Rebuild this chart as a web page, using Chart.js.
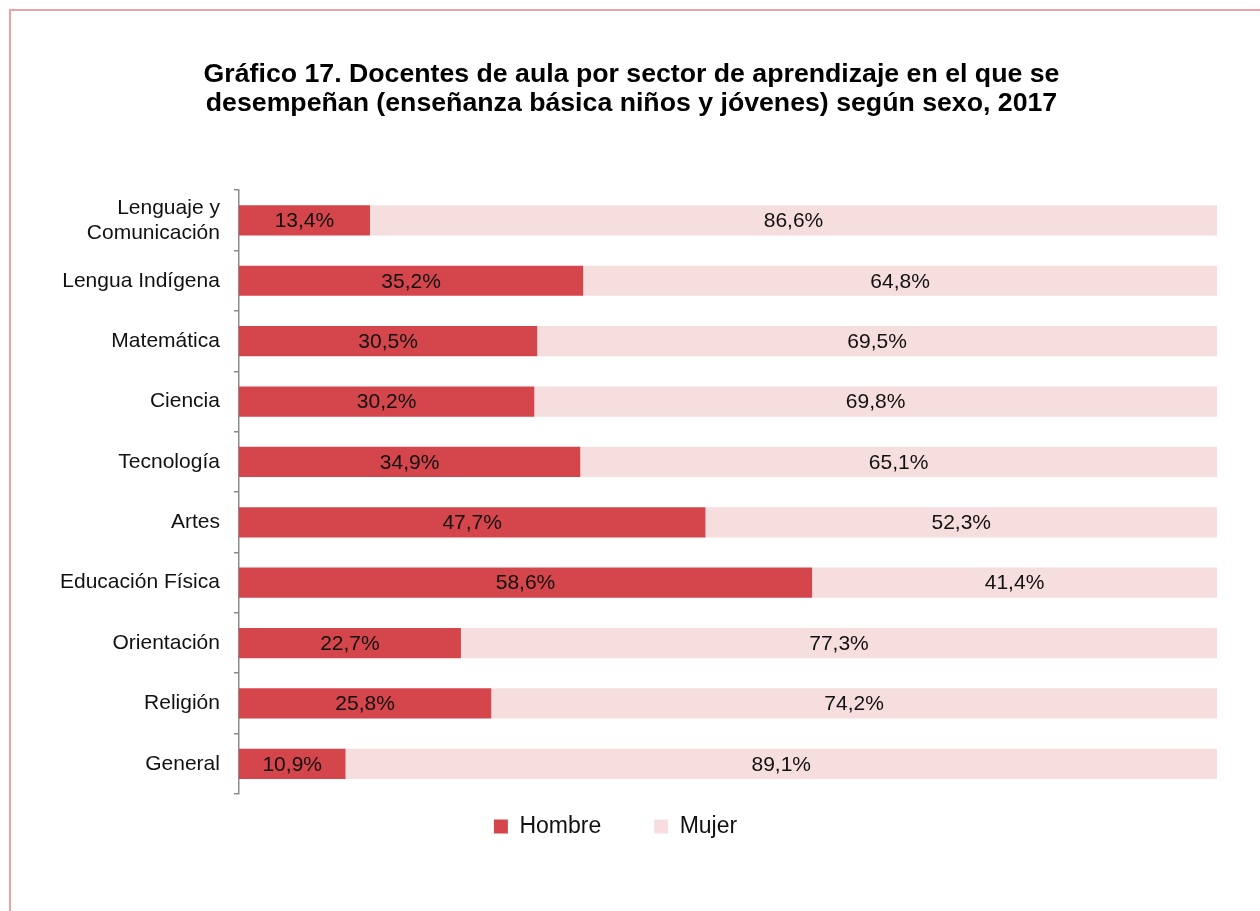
<!DOCTYPE html>
<html>
<head>
<meta charset="utf-8">
<script src="https://cdn.jsdelivr.net/npm/chart.js@4.4.0/dist/chart.umd.min.js"></script>
<style>
  html, body { margin: 0; padding: 0; background: #fff; overflow: hidden; }
  #frame {
    position: absolute; left: 9px; top: 9px; width: 1300px; height: 960px;
    border-left: 2px solid #efa0a4; border-top: 2px solid #efa0a4;
  }
  #chart { position: absolute; left: 0; top: 0; }
</style>
</head>
<body>
<div id="frame"></div>
<canvas id="chart" width="1260" height="911"></canvas>
<script>
// ─── DATA ───
const categories = [
    ['Lenguaje y', 'Comunicación'],
    'Lengua Indígena',
    'Matemática',
    'Ciencia',
    'Tecnología',
    'Artes',
    'Educación Física',
    'Orientación',
    'Religión',
    'General'
];
const hombre = [13.4, 35.2, 30.5, 30.2, 34.9, 47.7, 58.6, 22.7, 25.8, 10.9];
const mujer = [86.6, 64.8, 69.5, 69.8, 65.1, 52.3, 41.4, 77.3, 74.2, 89.1];
const seriesNames = ['Hombre', 'Mujer'];
const titleLines = [
    'Gráfico 17. Docentes de aula por sector de aprendizaje en el que se',
    'desempeñan (enseñanza básica niños y jóvenes) según sexo, 2017'
];

const FONT = "'Liberation Sans', Arial, sans-serif";

// labels centred inside each bar segment
const barLabels = {
    id: 'barLabels',
    afterDatasetsDraw(chart) {
        const ctx = chart.ctx;
        ctx.save();
        ctx.font = '21px ' + FONT;
        ctx.fillStyle = '#111';
        ctx.textAlign = 'center';
        ctx.textBaseline = 'middle';
        chart.data.datasets.forEach((ds, i) => {
            const meta = chart.getDatasetMeta(i);
            meta.data.forEach((bar, j) => {
                const p = bar.getProps(['x', 'y', 'base'], true);
                const txt = ds.data[j].toFixed(1).replace('.', ',') + '%';
                ctx.fillText(txt, (p.x + p.base) / 2, p.y + 1);
            });
        });
        ctx.restore();
    }
};

new Chart(document.getElementById('chart'), {
    type: 'bar',
    data: {
        labels: categories,
        datasets: [
            { label: seriesNames[0], data: hombre, backgroundColor: '#d4454c', borderWidth: 0,
              categoryPercentage: 1, barPercentage: 0.5 },
            { label: seriesNames[1], data: mujer, backgroundColor: '#f7dede', borderWidth: 0,
              categoryPercentage: 1, barPercentage: 0.5 }
        ]
    },
    options: {
        indexAxis: 'y',
        responsive: false,
        animation: false,
        devicePixelRatio: 1,
        layout: { padding: { left: 46, right: 43, top: 0, bottom: 63 } },
        scales: {
            x: { stacked: true, min: 0, max: 100, display: false },
            y: {
                stacked: true,
                border: { display: true, color: '#8c8c8c', width: 1.5 },
                grid: { drawOnChartArea: false, tickLength: 5, color: '#8c8c8c', lineWidth: 1.5, offset: true },
                ticks: { color: '#111', padding: 14, font: { size: 21, family: FONT } }
            }
        },
        plugins: {
            title: {
                display: true,
                text: titleLines,
                color: '#000',
                font: { size: 26.7, weight: 'bold', family: FONT, lineHeight: 1.09 },
                padding: { top: 60, bottom: 72 }
            },
            legend: {
                position: 'bottom',
                labels: {
                    color: '#111',
                    font: { size: 23, family: FONT },
                    boxWidth: 14,
                    boxHeight: 14,
                    padding: 21,
                    generateLabels(chart) {
                        const items = Chart.defaults.plugins.legend.labels.generateLabels(chart);
                        // wider gap after the first entry, legend sits a bit left of centre
                        items[0].text = items[0].text + '     ';
                        items[1].text = items[1].text + '     ';
                        return items;
                    }
                }
            },
            tooltip: { enabled: false }
        }
    },
    plugins: [barLabels]
});
</script>
</body>
</html>
